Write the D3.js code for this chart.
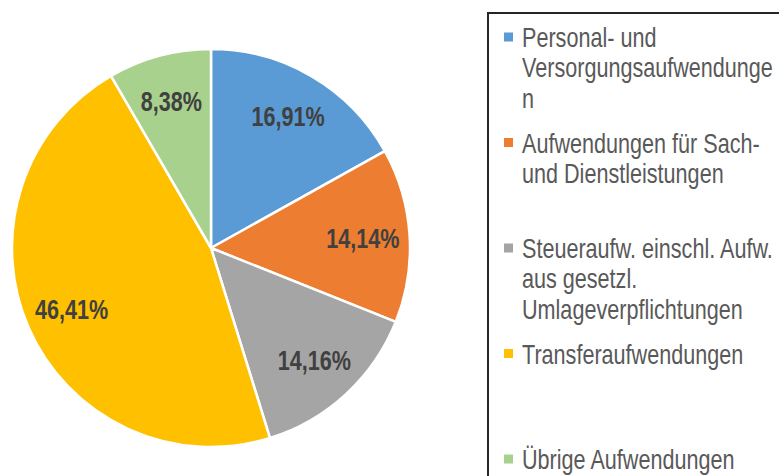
<!DOCTYPE html>
<html>
<head>
<meta charset="utf-8">
<script src="https://cdn.jsdelivr.net/npm/d3@7"></script>
<style>
  body { margin: 0; background: #fff; }
  svg { display: block; }
</style>
</head>
<body>
<div class="chart"></div>
<script>
// Aufwendungen nach Art (Anteile in %)
const categories = [
    "Personal- und Versorgungsaufwendungen",
    "Aufwendungen für Sach- und Dienstleistungen",
    "Steueraufw. einschl. Aufw. aus gesetzl. Umlageverpflichtungen",
    "Transferaufwendungen",
    "Übrige Aufwendungen"
];
const values = [16.91, 14.14, 14.16, 46.41, 8.38];
const valueLabels = ["16,91%", "14,14%", "14,16%", "46,41%", "8,38%"];
// legend lines wrapped as in the original
const legendLines = [
    ["Personal- und", "Versorgungsaufwendunge", "n"],
    ["Aufwendungen für Sach-", "und Dienstleistungen"],
    ["Steueraufw. einschl. Aufw.", "aus gesetzl.", "Umlageverpflichtungen"],
    ["Transferaufwendungen"],
    ["Übrige Aufwendungen"]
];
const colors = ["#5B9BD5", "#ED7D31", "#A5A5A5", "#FFC000", "#A9D18E"];

const width = 779, height = 476;
const cx = 211, cy = 248, radius = 199;
// no narrow font installed, so squeeze the regular one
const narrow = 0.8;

const svg = d3.select(".chart")
    .append("svg")
    .attr("width", width)
    .attr("height", height);

const data = categories.map((c, i) => ({ name: c, value: values[i], label: valueLabels[i], color: colors[i] }));

const pie = d3.pie().sort(null).value(d => d.value);
const arc = d3.arc().innerRadius(0).outerRadius(radius);
const labelArc = d3.arc().innerRadius(radius * 0.765).outerRadius(radius * 0.765);

const g = svg.append("g")
    .attr("transform", `translate(${cx}, ${cy})`);

const arcs = pie(data);

g.selectAll(".slice")
    .data(arcs)
    .enter()
    .append("path")
    .attr("class", "slice")
    .attr("d", arc)
    .attr("fill", d => d.data.color)
    .attr("stroke", "#fff")
    .attr("stroke-width", 2.5)
    .attr("stroke-linejoin", "round");

g.selectAll(".lbl")
    .data(arcs)
    .enter()
    .append("text")
    .attr("class", "lbl")
    .attr("transform", d => `translate(${labelArc.centroid(d)}) scale(${narrow}, 1)`)
    .attr("text-anchor", "middle")
    .attr("dy", "0.36em")
    .style("font-family", "'Liberation Sans', Arial, sans-serif")
    .style("font-weight", "bold")
    .style("font-size", "27px")
    .style("fill", "#404040")
    .text(d => d.data.label);

// Legend
const legend = svg.append("g");

legend.append("rect")
    .attr("x", 488)
    .attr("y", 13)
    .attr("width", 320)
    .attr("height", 500)
    .attr("fill", "none")
    .attr("stroke", "#262626")
    .attr("stroke-width", 2);

const itemY = d3.scalePoint()
    .domain(categories)
    .range([37, 459]);

const items = legend.selectAll(".item")
    .data(data)
    .enter()
    .append("g")
    .attr("class", "item")
    .attr("transform", d => `translate(0, ${itemY(d.name)})`);

items.append("rect")
    .attr("x", 504)
    .attr("y", -4.5)
    .attr("width", 9)
    .attr("height", 9)
    .attr("fill", d => d.color);

items.append("text")
    .attr("transform", `translate(522, 0) scale(${narrow}, 1)`)
    .style("font-family", "'Liberation Sans', Arial, sans-serif")
    .style("font-size", "27px")
    .style("fill", "#595959")
    .selectAll("tspan")
    .data((d, i) => legendLines[i])
    .enter()
    .append("tspan")
    .attr("x", 0)
    .attr("y", (d, i) => 10 + i * 30.5)
    .text(d => d);
</script>
</body>
</html>
